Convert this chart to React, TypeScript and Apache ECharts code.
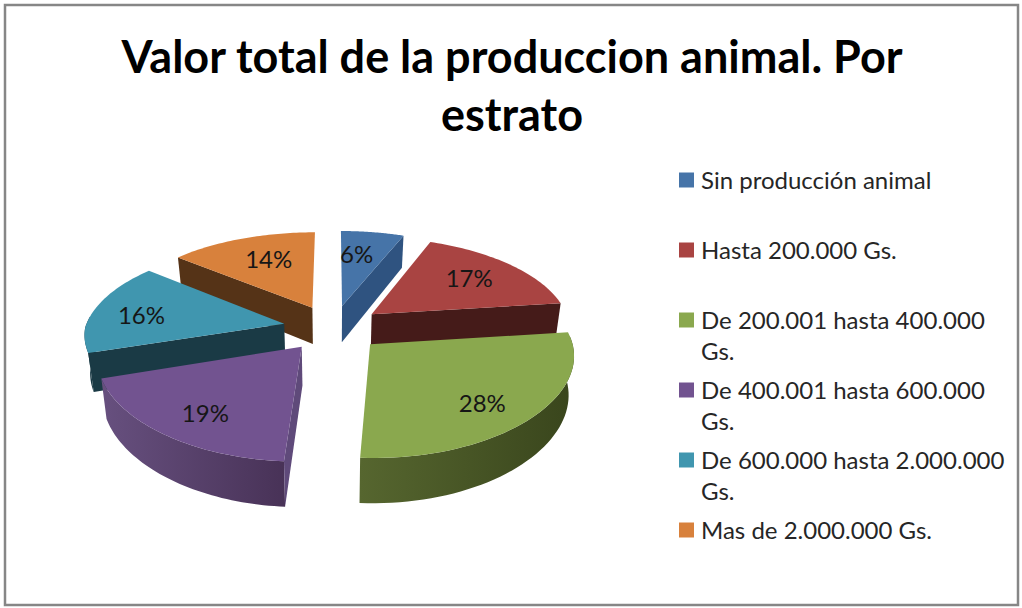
import React, { useEffect, useRef } from "react";
import * as echarts from "echarts";

const titleText = "Valor total de la produccion animal. Por\nestrato";
const categories = [
  "Sin producción animal",
  "Hasta 200.000 Gs.",
  "De 200.001 hasta 400.000\nGs.",
  "De 400.001 hasta 600.000\nGs.",
  "De 600.000 hasta 2.000.000\nGs.",
  "Mas de 2.000.000 Gs.",
];
const values = [6, 17, 28, 19, 16, 14];
const topColors = ["#4674A8", "#A94442", "#8AA84E", "#725390", "#4096AF", "#D8813C"];
const cutColors = ["#2F5380", "#451B19", "#55652F", "#5F4A7A", "#1A3A45", "#553317"];
const wallLeft = ["#2F5380", "#451B19", "#56662F", "#67507F", "#1A3A45", "#553317"];
const wallRight = ["#2F5380", "#451B19", "#39451C", "#483257", "#1A3A45", "#553317"];
const drawOrder = [5, 0, 1, 4, 3, 2];
const labelShift = [[-7, 0], [1, -2], [5, 10], [-5, 9], [-14, 2], [6, -1]];

const FONT = "Lato, 'Open Sans', sans-serif";
const CX = 333, CY = 328, R = 199, EXPLODE = 50, K = 0.462, E = 0.146, E_NEAR = 0.1, DEPTH = 37.5, SHRINK = 0.0006;
const total = values.reduce((a, b) => a + b, 0);
const rad = (p: number) => (p / total) * Math.PI * 2;

function project(t: number, r: number, mid: number, down = 0): [number, number] {
  const X = EXPLODE * Math.sin(mid) + r * Math.sin(t);
  const Z = EXPLODE * Math.cos(mid) + r * Math.cos(t);
  const s = 1 / (1 + (E * Z) / R);
  const sx = Z > 0 ? s : 1 / (1 + (E_NEAR * Z) / R);
  return [CX + X * sx * (1 - down * SHRINK), CY - K * Z * s + down * s];
}

function renderSlice(_params: any, api: any) {
  const v = api.value(0);
  const i = api.value(1);
  const before = values.slice(0, i).reduce((a, b) => a + b, 0);
  const t0 = rad(before);
  const t1 = rad(before + v);
  const mid = (t0 + t1) / 2;
  const n = 48;
  const arc: number[] = [];
  for (let k = 0; k <= n; k++) arc.push(t0 + ((t1 - t0) * k) / n);
  const children: any[] = [];
  const cutFace = (t: number) => ({
    type: "polygon",
    shape: {
      points: [
        project(0, 0, mid),
        project(t, R, mid),
        project(t, R, mid, DEPTH),
        project(0, 0, mid, DEPTH),
      ],
    },
    style: { fill: cutColors[i] },
  });
  const front = arc.filter((t) => Math.cos(t) < 0.1);
  if (front.length > 1) {
    children.push({
      type: "polygon",
      shape: {
        points: [
          ...front.map((t) => project(t, R, mid)),
          ...front.slice().reverse().map((t) => project(t, R, mid, DEPTH)),
        ],
      },
      style: {
        fill: new echarts.graphic.LinearGradient(0, 0, 1, 0, [
          { offset: 0, color: wallLeft[i] },
          { offset: 1, color: wallRight[i] },
        ]),
      },
    });
  }
  // Only the faces turned towards the viewer are drawn.
  if (Math.cos(t0 - Math.PI / 2) < 0) children.push(cutFace(t0));
  if (Math.cos(t1 + Math.PI / 2) < 0) children.push(cutFace(t1));
  children.push({
    type: "polygon",
    shape: { points: [project(0, 0, mid), ...arc.map((t) => project(t, R, mid))] },
    style: { fill: topColors[i] },
  });
  const [lx, ly] = project(mid, R * 0.68, mid);
  children.push({
    type: "text",
    style: {
      text: `${v}%`,
      x: lx + labelShift[i][0],
      y: ly + labelShift[i][1],
      fill: "#161616",
      font: `24px ${FONT}`,
      align: "center",
      verticalAlign: "middle",
    },
  });
  return { type: "group", children };
}

export default function App() {
  const ref = useRef<HTMLDivElement>(null);
  useEffect(() => {
    document.body.style.margin = "0";
    const chart = echarts.init(ref.current!, undefined, { renderer: "svg" });
    const legendElements: any[] = [];
    categories.forEach((name, i) => {
      const y = 180 + i * 70;
      legendElements.push({
        type: "rect",
        shape: { x: 679, y: y - 7.5, width: 15, height: 15 },
        style: { fill: topColors[i] },
      });
      legendElements.push({
        type: "text",
        style: {
          text: name,
          x: 701,
          y: y - 16.5,
          fill: "#262626",
          font: `24px ${FONT}`,
          lineHeight: 31,
          align: "left",
          verticalAlign: "top",
        },
      });
    });
    chart.setOption({
      animation: false,
      backgroundColor: "#ffffff",
      title: {
        text: titleText,
        left: 507,
        top: 22,
        textAlign: "center",
        textStyle: {
          fontFamily: FONT,
          fontWeight: "bold",
          fontSize: 45,
          lineHeight: 58,
          color: "#000000",
        },
      },
      graphic: [
        {
          type: "rect",
          shape: { x: 5, y: 5, width: 1013, height: 600 },
          style: { fill: "none", stroke: "#868686", lineWidth: 2.5 },
          silent: true,
        },
        ...legendElements,
      ],
      series: [
        {
          type: "custom",
          coordinateSystem: "none",
          renderItem: renderSlice,
          data: drawOrder.map((i) => [values[i], i]),
        },
      ],
    });
    return () => chart.dispose();
  }, []);
  return <div ref={ref} style={{ width: 1022, height: 608 }} />;
}
